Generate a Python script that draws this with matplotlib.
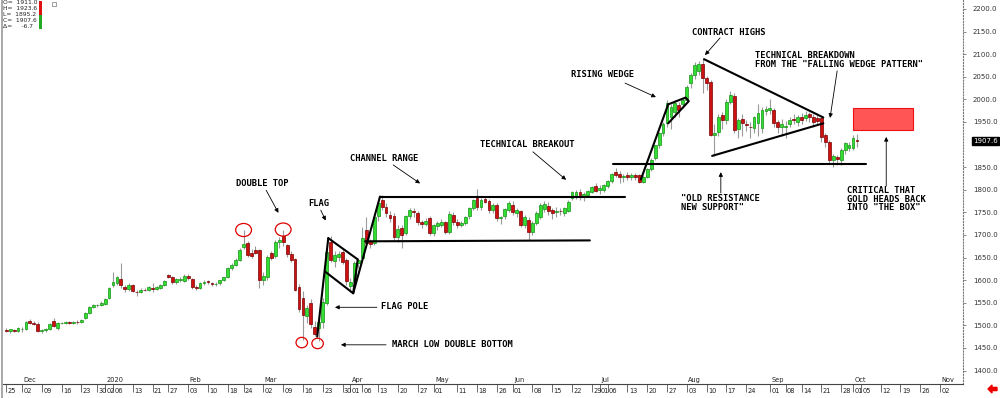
import matplotlib
matplotlib.use('Agg')
import matplotlib.pyplot as plt
from matplotlib.patches import Rectangle, Ellipse, FancyArrow
import numpy as np
import pandas as pd

# trading calendar shown on the chart (exchange holidays left out)
first_day = '2019-11-25'
last_axis_day = '2020-11-06'
holidays = ['2019-11-28', '2019-12-25', '2020-01-01', '2020-01-20', '2020-02-17',
            '2020-04-10', '2020-05-25', '2020-07-03', '2020-09-07']

# daily candles, Nov 25 2019 .. Oct 2 2020
opens = [1490, 1487, 1490, 1487, 1491, 1491, 1510, 1506, 1504, 1487, 1489, 1492, 1510, 1494,
         1505, 1506, 1507, 1505, 1508, 1507, 1516, 1527, 1540, 1544, 1546, 1548, 1560, 1590,
         1594, 1603, 1585, 1580, 1590, 1574, 1573, 1579, 1578, 1583, 1581, 1583, 1590, 1611,
         1607, 1595, 1601, 1598, 1610, 1603, 1584, 1583, 1593, 1598, 1594, 1591, 1593, 1600,
         1606, 1626, 1634, 1645, 1673, 1682, 1660, 1667, 1666, 1600, 1607, 1660, 1654, 1685,
         1697, 1677, 1657, 1646, 1585, 1560, 1520, 1550, 1497, 1494, 1507, 1550, 1685, 1642,
         1652, 1662, 1645, 1588, 1598, 1637, 1650, 1712, 1686, 1683, 1741, 1778, 1762, 1744,
         1743, 1696, 1716, 1705, 1741, 1753, 1749, 1728, 1725, 1738, 1704, 1719, 1723, 1729,
         1706, 1744, 1729, 1722, 1727, 1742, 1760, 1782, 1762, 1780, 1776, 1755, 1766, 1738,
         1742, 1756, 1766, 1749, 1752, 1722, 1733, 1706, 1727, 1740, 1757, 1764, 1755, 1751,
         1754, 1749, 1753, 1782, 1786, 1796, 1787, 1789, 1796, 1808, 1800, 1800, 1808, 1820,
         1840, 1836, 1828, 1832, 1828, 1832, 1833, 1818, 1829, 1846, 1870, 1899, 1925, 1948,
         1961, 1972, 1988, 1990, 1999, 2036, 2054, 2062, 2078, 2048, 2038, 1921, 1928, 1965,
         1954, 1994, 2008, 1935, 1956, 1945, 1940, 1936, 1948, 1936, 1975, 1977, 1977, 1950,
         1938, 1940, 1946, 1956, 1950, 1961, 1958, 1967, 1962, 1958, 1958, 1921, 1906, 1866,
         1872, 1866, 1888, 1892, 1893, 1911.0]
highs = [1494, 1493, 1492, 1496, 1496, 1510, 1514, 1510, 1507, 1492, 1495, 1506, 1516, 1508,
         1508, 1509, 1510, 1510, 1511, 1515, 1529, 1542, 1547, 1548, 1553, 1560, 1585, 1617,
         1610, 1638, 1590, 1594, 1592, 1578, 1582, 1583, 1588, 1594, 1587, 1592, 1600, 1614,
         1610, 1605, 1607, 1614, 1614, 1605, 1590, 1595, 1600, 1601, 1597, 1595, 1601, 1608,
         1629, 1637, 1648, 1671, 1711, 1686, 1668, 1675, 1670, 1617, 1655, 1665, 1690, 1695,
         1712, 1680, 1665, 1650, 1592, 1575, 1545, 1558, 1510, 1515, 1560, 1668, 1697, 1665,
         1665, 1672, 1650, 1604, 1642, 1650, 1718, 1740, 1692, 1745, 1775, 1788, 1770, 1752,
         1748, 1722, 1722, 1745, 1760, 1760, 1752, 1734, 1738, 1742, 1725, 1730, 1735, 1732,
         1752, 1750, 1735, 1730, 1742, 1762, 1780, 1801, 1782, 1786, 1780, 1770, 1770, 1742,
         1760, 1775, 1776, 1760, 1756, 1745, 1740, 1730, 1752, 1770, 1775, 1772, 1760, 1762,
         1760, 1762, 1777, 1797, 1800, 1802, 1795, 1800, 1808, 1815, 1810, 1812, 1822, 1838,
         1848, 1842, 1835, 1840, 1838, 1838, 1836, 1832, 1848, 1870, 1900, 1928, 1950, 1998,
         1990, 1998, 1995, 2005, 2032, 2058, 2082, 2085, 2089, 2052, 2042, 1945, 1968, 1972,
         2000, 2018, 2015, 1958, 1968, 1955, 1950, 1964, 1990, 1983, 1985, 2000, 1982, 1955,
         1957, 1952, 1960, 1968, 1965, 1970, 1975, 1972, 1968, 1965, 1962, 1925, 1910, 1880,
         1878, 1893, 1905, 1905, 1921, 1923.6]
lows = [1486, 1484, 1485, 1485, 1486, 1489, 1502, 1501, 1485, 1484, 1486, 1490, 1496, 1490,
        1502, 1503, 1503, 1503, 1504, 1505, 1514, 1525, 1538, 1540, 1542, 1545, 1558, 1585,
        1590, 1583, 1573, 1577, 1573, 1565, 1571, 1575, 1576, 1573, 1578, 1580, 1588, 1605,
        1592, 1592, 1596, 1595, 1600, 1581, 1578, 1581, 1590, 1592, 1588, 1588, 1590, 1598,
        1604, 1623, 1631, 1643, 1668, 1652, 1650, 1657, 1583, 1590, 1600, 1645, 1650, 1672,
        1675, 1652, 1640, 1575, 1530, 1468, 1505, 1495, 1476, 1466, 1495, 1545, 1640, 1630,
        1642, 1636, 1590, 1573, 1594, 1628, 1645, 1677, 1672, 1678, 1730, 1755, 1740, 1728,
        1690, 1685, 1671, 1700, 1735, 1740, 1723, 1715, 1720, 1700, 1698, 1712, 1718, 1703,
        1703, 1722, 1715, 1718, 1722, 1735, 1755, 1755, 1755, 1770, 1748, 1748, 1730, 1725,
        1735, 1750, 1745, 1740, 1718, 1715, 1689, 1700, 1722, 1735, 1750, 1745, 1735, 1740,
        1745, 1742, 1750, 1778, 1780, 1778, 1775, 1785, 1792, 1795, 1790, 1795, 1805, 1815,
        1828, 1815, 1818, 1822, 1822, 1822, 1815, 1815, 1826, 1842, 1865, 1893, 1918, 1940,
        1935, 1960, 1960, 1982, 1995, 2025, 2045, 2055, 2015, 2020, 1918, 1875, 1920, 1935,
        1945, 1990, 1925, 1915, 1920, 1930, 1915, 1925, 1920, 1925, 1965, 1968, 1940, 1925,
        1920, 1915, 1938, 1945, 1942, 1946, 1952, 1950, 1938, 1945, 1905, 1895, 1860, 1850,
        1855, 1855, 1880, 1885, 1888, 1895.2]
closes = [1488, 1491, 1487, 1494, 1493, 1507, 1506, 1504, 1487, 1489, 1492, 1503, 1499, 1505,
          1506, 1507, 1505, 1508, 1507, 1513, 1527, 1540, 1544, 1546, 1550, 1558, 1583, 1595,
          1606, 1590, 1580, 1590, 1576, 1573, 1579, 1578, 1585, 1581, 1584, 1590, 1598, 1608,
          1595, 1603, 1602, 1610, 1604, 1584, 1583, 1593, 1596, 1595, 1591, 1592, 1600, 1606,
          1626, 1634, 1645, 1667, 1680, 1656, 1654, 1661, 1600, 1610, 1651, 1650, 1685, 1688,
          1685, 1657, 1644, 1579, 1537, 1522, 1539, 1502, 1482, 1507, 1551, 1662, 1645, 1656,
          1657, 1641, 1598, 1596, 1637, 1645, 1693, 1683, 1680, 1740, 1770, 1762, 1749, 1738,
          1696, 1714, 1700, 1742, 1755, 1750, 1729, 1725, 1732, 1704, 1722, 1727, 1728, 1707,
          1747, 1728, 1722, 1727, 1740, 1759, 1777, 1762, 1777, 1774, 1755, 1766, 1738, 1740,
          1757, 1771, 1750, 1755, 1722, 1740, 1707, 1727, 1749, 1766, 1769, 1753, 1749, 1754,
          1752, 1760, 1773, 1795, 1796, 1788, 1790, 1797, 1806, 1797, 1803, 1810, 1820, 1836,
          1833, 1828, 1830, 1829, 1832, 1829, 1818, 1829, 1846, 1867, 1898, 1925, 1946, 1992,
          1983, 1992, 1977, 1999, 2027, 2054, 2076, 2078, 2047, 2037, 1921, 1926, 1961, 1954,
          1994, 2010, 1932, 1954, 1948, 1943, 1938, 1960, 1970, 1977, 1978, 1980, 1948, 1939,
          1946, 1942, 1954, 1954, 1960, 1955, 1966, 1960, 1950, 1952, 1917, 1906, 1866, 1875,
          1868, 1888, 1903, 1900, 1914.3, 1907.6]

price_ticks = [1400, 1450, 1500, 1550, 1600, 1650, 1700, 1750, 1800, 1850,
               1950, 2000, 2050, 2100, 2150, 2200]
last_price = 1907.6
quote_lines = ['O=  1911.0', 'H=  1923.6', 'L=  1895.2', 'C=  1907.6', '\u0394=     -6.7']

days = pd.bdate_range(first_day, last_axis_day)
days = days[~days.isin(pd.to_datetime(holidays))]

# date ticks: first session of each week and of each month
month_first = [i for i in range(1, len(days)) if days[i].month != days[i - 1].month]
week_first = [i for i in range(len(days))
              if i == 0 or days[i].isocalendar()[1] != days[i - 1].isocalendar()[1]]
tick_idx = sorted(set(month_first) |
                  {i for i in week_first if all(abs(i - m) > 1 for m in month_first)})

fig = plt.figure(figsize=(10, 3.98), dpi=100)
ax = fig.add_axes([3 / 1000, 14 / 398, 960 / 1000, 384 / 398])
ax.set_xlim(-0.8, 241.8)
ax.set_ylim(1370.3, 2219.9)

# candles
o = np.array(opens, float)
h = np.array(highs, float)
l = np.array(lows, float)
c = np.array(closes, float)
x = np.arange(len(c))
up = c >= o
ax.vlines(x, l, h, color='#9a9a9a', lw=0.8, zorder=2)
bottom = np.minimum(o, c)
height = np.maximum(np.abs(c - o), 1.2)
ax.bar(x[up], height[up], bottom=bottom[up], width=0.72, color='#33dd33',
       edgecolor='#129212', lw=0.5, zorder=3)
ax.bar(x[~up], height[~up], bottom=bottom[~up], width=0.72, color='#cc1111',
       edgecolor='#7a0000', lw=0.5, zorder=3)

# hand drawn trend lines (day index, price)
trend_lines = [
    [(78.6, 1475), (81.4, 1693)],                                  # flag pole
    [(81.4, 1693), (88.84, 1646), (87.7, 1571), (80.6, 1619)],     # flag
    [(87.7, 1571), (94.47, 1785)],
    [(94.47, 1783), (156.4, 1783)],                                # channel top
    [(90.7, 1686), (147.5, 1688)],                                 # channel bottom
    [(160.4, 1823), (167.3, 1989)],                                # wedge pole
    [(167.3, 1947), (172.5, 1996), (171.7, 2004), (167.3, 1989)],  # rising wedge
    [(153.4, 1857), (217.3, 1857)],                                # old resistance
    [(176.35, 2089), (206.5, 1960)],                               # falling wedge
    [(178.4, 1875), (206.5, 1947)],
]
for seg in trend_lines:
    xs, ys = zip(*seg)
    ax.plot(xs, ys, color='black', lw=1.5, solid_capstyle='round', zorder=4)

# red circles on the double top / double bottom
day_pos = {d: i for i, d in enumerate(days)}
circled = [('2020-02-24', 'high'), ('2020-03-09', 'high'),
           ('2020-03-16', 'low'), ('2020-03-20', 'low')]
for day, side in circled:
    i = day_pos[pd.Timestamp(day)]
    if side == 'high':
        ax.add_patch(Ellipse((i, h[i]), 4.0, 29, fill=False, ec='#e00000', lw=0.9, zorder=5))
    else:
        ax.add_patch(Ellipse((i - 0.3, l[i] - 6), 2.9, 23, fill=False, ec='#e00000', lw=0.9, zorder=5))

# "the box"
ax.add_patch(Rectangle((214, 1932), 15.2, 50, fc='#ff5555', ec='#ee1111', lw=0.8, zorder=4))

# annotations: text, text anchor, arrow tail, arrow head
notes = [
    ('DOUBLE TOP', (58.1, 1813), (65.7, 1799), (68.8, 1749)),
    ('FLAG', (76.3, 1770), (79.5, 1755), (80.75, 1732)),
    ('CHANNEL RANGE', (86.9, 1870), (97.8, 1855), (104.6, 1814)),
    ('FLAG POLE', (94.7, 1541), (93.7, 1540), (83.1, 1540)),
    ('MARCH LOW DOUBLE BOTTOM', (97.5, 1457), (96.0, 1457), (84.6, 1457)),
    ('TECHNICAL BREAKOUT', (119.7, 1901), (133.1, 1884), (141.5, 1822)),
    ('RISING WEDGE', (142.7, 2054), (156.4, 2036), (164.2, 2005)),
    ('CONTRACT HIGHS', (173.3, 2149), (180.4, 2136), (176.6, 2098)),
    ('TECHNICAL BREAKDOWN\nFROM THE "FALLING WEDGE PATTERN"', (189.2, 2087),
     (210.0, 2063), (208.2, 1959)),
    ('"OLD RESISTANCE\nNEW SUPPORT"', (170.5, 1771), (180.6, 1793), (180.6, 1839)),
    ('CRITICAL THAT\nGOLD HEADS BACK\nINTO "THE BOX"', (212.5, 1779), (222.4, 1808), (222.4, 1917)),
]
for text, anchor, tail, head in notes:
    ax.text(anchor[0], anchor[1], text, ha='left', va='center', fontsize=6.3,
            family='DejaVu Sans Mono', weight='bold', linespacing=0.95, zorder=6)
    ax.annotate('', xy=head, xytext=tail,
                arrowprops=dict(arrowstyle='-|>', color='black', lw=0.6,
                                mutation_scale=6, shrinkA=0, shrinkB=0), zorder=6)

# axes frame
for side in ('top', 'left'):
    ax.spines[side].set_visible(False)
ax.spines['bottom'].set_color('#444444')
ax.spines['bottom'].set_linewidth(0.8)
ax.spines['right'].set_color('#777777')
ax.spines['right'].set_linestyle(':')
ax.spines['right'].set_linewidth(0.8)

ax.yaxis.tick_right()
ax.set_yticks(price_ticks)
ax.set_yticklabels([f'{p:.1f}' for p in price_ticks])
ax.tick_params(axis='y', length=2, width=0.6, color='#777777', pad=5,
               labelsize=5, labelcolor='#333333')

ax.set_xticks(tick_idx)
ax.tick_params(axis='x', length=5.5, width=0.6, color='#555555', labelbottom=False)
xt = ax.get_xaxis_transform()
for i in tick_idx:
    ax.text(i + 0.35, -0.019, f'{days[i].day:02d}', transform=xt, ha='left', va='center',
            fontsize=4.8, color='#222222')
for i in month_first:
    name = str(days[i].year) if days[i].month == 1 else days[i].strftime('%b')
    ax.text(i + 0.35, 0.011, name, transform=xt, ha='left', va='center',
            fontsize=4.8, color='#222222')

# last price marker on the price scale
ax.text(1.0104, last_price, f'{last_price:.1f}', transform=ax.get_yaxis_transform(),
        ha='left', va='center', fontsize=5, color='white', zorder=7,
        bbox=dict(boxstyle='square,pad=0.18', fc='black', ec='black'))

# quote box top-left
for k, line in enumerate(quote_lines):
    fig.text(3 / 1000, 1 - (3 + 6 * k) / 398, line, ha='left', va='center',
             fontsize=4.3, color='#222222')
fig.add_artist(Rectangle((39 / 1000, 1 - 15 / 398), 3 / 1000, 14 / 398,
                         transform=fig.transFigure, fc='#dd1111', ec='none'))
fig.add_artist(Rectangle((39 / 1000, 1 - 29 / 398), 3 / 1000, 14 / 398,
                         transform=fig.transFigure, fc='#22aa22', ec='none'))
fig.add_artist(Rectangle((52 / 1000, 1 - 6 / 398), 4 / 1000, 4 / 398,
                         transform=fig.transFigure, fc='white', ec='#777777', lw=0.5))

# window edge and the red scroll arrow
fig.add_artist(plt.Line2D([2 / 1000, 2 / 1000], [0, 1], transform=fig.transFigure,
                          color='#9a9a9a', lw=1.2))
fig.add_artist(FancyArrow(0.997, 1 - 389 / 398, -0.005, 0, width=0.008, head_width=0.02,
                          head_length=0.004, length_includes_head=False,
                          transform=fig.transFigure, color='#ee0000'))

fig.savefig('out.png', dpi=100, facecolor='white')
